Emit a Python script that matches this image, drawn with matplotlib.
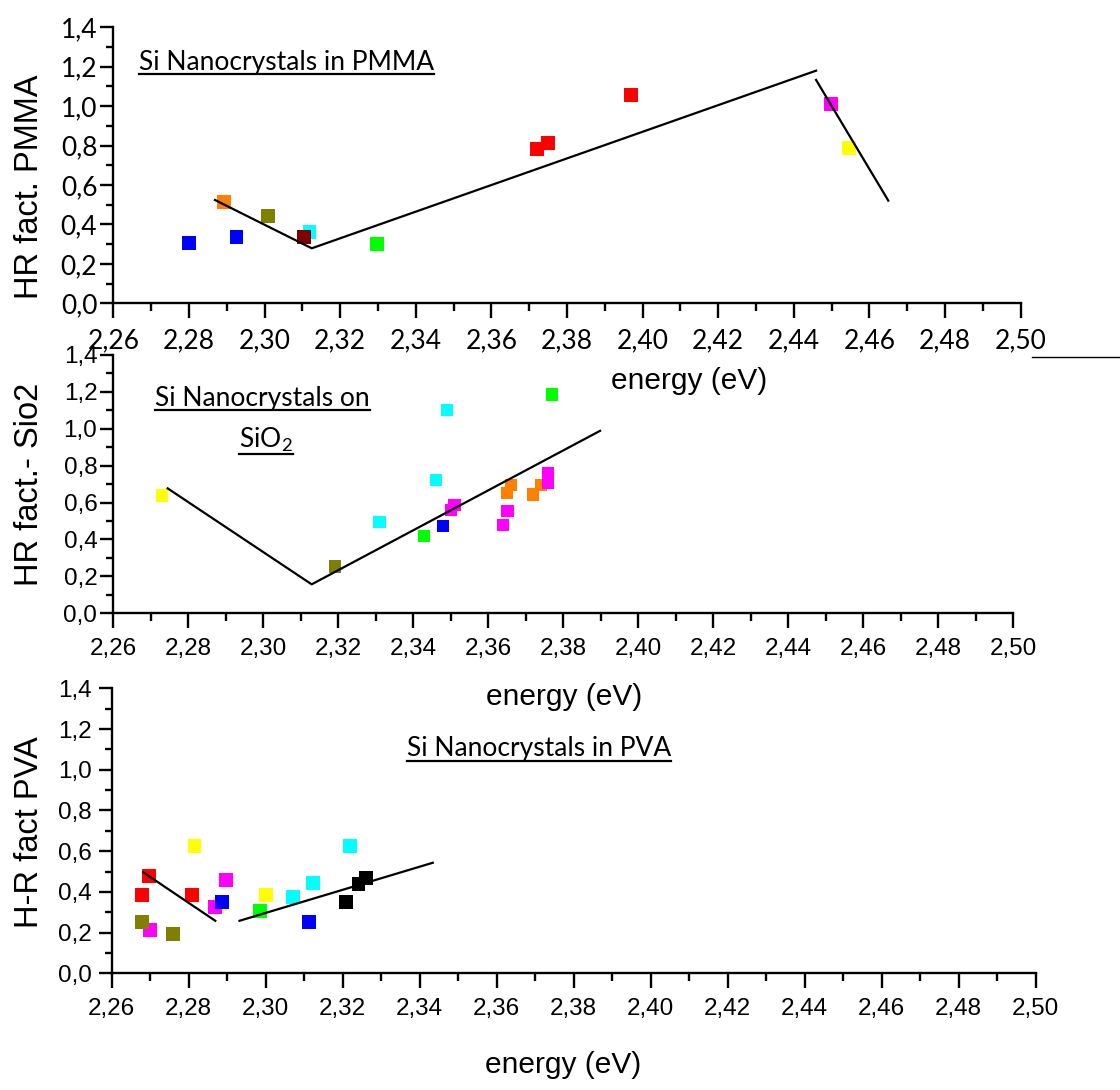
import matplotlib
matplotlib.use('Agg')
import matplotlib.pyplot as plt
from matplotlib.ticker import MultipleLocator, FuncFormatter
from matplotlib.lines import Line2D

# --- data ---
# Si nanocrystals in PMMA
pmma_e = [2.2800, 2.2894, 2.2926, 2.3010, 2.3119, 2.3105, 2.3298,
          2.3720, 2.3749, 2.3970, 2.4498, 2.4547]
pmma_hr = [0.307, 0.515, 0.335, 0.444, 0.360, 0.338, 0.299,
           0.783, 0.813, 1.057, 1.011, 0.789]
pmma_sample = ['blue', 'orange', 'blue', 'olive', 'cyan', 'maroon', 'green',
               'red', 'red', 'red', 'magenta', 'yellow']
pmma_fit1_e = [2.2869, 2.3125, 2.4459]
pmma_fit1_hr = [0.524, 0.279, 1.180]
pmma_fit2_e = [2.4459, 2.4650]
pmma_fit2_hr = [1.133, 0.521]

# Si nanocrystals on SiO2
sio2_e = [2.2730, 2.3191, 2.3310, 2.3429, 2.3460, 2.3490, 2.3480, 2.3501, 2.3510,
          2.3640, 2.3651, 2.3649, 2.3660, 2.3720, 2.3741, 2.3760, 2.3760, 2.3770]
sio2_hr = [0.639, 0.254, 0.494, 0.420, 0.722, 1.100, 0.473, 0.559, 0.586,
           0.478, 0.554, 0.650, 0.695, 0.644, 0.695, 0.707, 0.758, 1.186]
sio2_sample = ['yellow', 'olive', 'cyan', 'green', 'cyan', 'cyan', 'blue', 'magenta', 'magenta',
               'magenta', 'magenta', 'orange', 'orange', 'orange', 'orange', 'magenta', 'magenta', 'green']
sio2_fit_e = [2.2745, 2.3129, 2.3898]
sio2_fit_hr = [0.677, 0.157, 0.989]

# Si nanocrystals in PVA
pva_e = [2.2678, 2.2698, 2.2700, 2.2678, 2.2760, 2.2815, 2.2809, 2.2882, 2.2868, 2.2886,
         2.2898, 2.3001, 2.2985, 2.3072, 2.3124, 2.3113, 2.3219, 2.3209, 2.3241, 2.3261]
pva_hr = [0.385, 0.479, 0.213, 0.253, 0.192, 0.627, 0.385, 0.340, 0.327, 0.349,
          0.458, 0.385, 0.307, 0.376, 0.445, 0.250, 0.625, 0.352, 0.437, 0.470]
pva_sample = ['red', 'red', 'magenta', 'olive', 'olive', 'yellow', 'red', 'yellow', 'magenta', 'blue',
              'magenta', 'yellow', 'green', 'cyan', 'cyan', 'blue', 'cyan', 'black', 'black', 'black']
pva_fit1_e = [2.2682, 2.2869]
pva_fit1_hr = [0.496, 0.258]
pva_fit2_e = [2.2932, 2.3434]
pva_fit2_hr = [0.258, 0.543]

COLORS = {'blue': '#0000ff', 'orange': '#ff8000', 'olive': '#808000', 'cyan': '#00ffff',
          'maroon': '#800000', 'green': '#00ff00', 'red': '#ff0000', 'magenta': '#ff00ff',
          'yellow': '#ffff00', 'black': '#000000'}

W, H = 1120, 1090
fig = plt.figure(figsize=(W / 100, H / 100), dpi=100)
plt.rcParams['mathtext.fontset'] = 'custom'
plt.rcParams['mathtext.rm'] = 'Lato'


def px_axes(left, top, right, bottom):
    return fig.add_axes([left / W, 1 - bottom / H, (right - left) / W, (bottom - top) / H])


def style_axes(ax, tickfont, ticksize):
    ax.set_xlim(2.26, 2.50)
    ax.set_ylim(0, 1.4)
    for s in ['top', 'right']:
        ax.spines[s].set_visible(False)
    for s in ['left', 'bottom']:
        ax.spines[s].set_linewidth(1.7)
    ax.xaxis.set_major_locator(MultipleLocator(0.02))
    ax.xaxis.set_minor_locator(MultipleLocator(0.01))
    ax.yaxis.set_major_locator(MultipleLocator(0.2))
    ax.yaxis.set_minor_locator(MultipleLocator(0.1))
    ax.xaxis.set_major_formatter(FuncFormatter(lambda v, p: ('%.2f' % v).replace('.', ',')))
    ax.yaxis.set_major_formatter(FuncFormatter(lambda v, p: ('%.1f' % v).replace('.', ',')))
    ax.tick_params(axis='x', which='major', direction='out', length=11, width=1.7, pad=7)
    ax.tick_params(axis='x', which='minor', direction='out', length=6, width=1.7)
    ax.tick_params(axis='y', which='major', direction='out', length=9.5, width=1.7, pad=2)
    ax.tick_params(axis='y', which='minor', direction='out', length=5, width=1.7)
    for lab in ax.get_xticklabels() + ax.get_yticklabels():
        lab.set_family(tickfont)
        lab.set_fontsize(ticksize)


def points(ax, e, hr, sample, ms):
    ax.scatter(e, hr, s=ms ** 2, marker='s', c=[COLORS[k] for k in sample],
               linewidths=0, zorder=2, clip_on=False)


ax1 = px_axes(113.3, 27.3, 1020.6, 303.3)
style_axes(ax1, 'Lato', 19)
points(ax1, pmma_e, pmma_hr, pmma_sample, 10)
ax1.plot(pmma_fit1_e, pmma_fit1_hr, 'k-', lw=1.6, zorder=3)
ax1.plot(pmma_fit2_e, pmma_fit2_hr, 'k-', lw=1.6, zorder=3)

ax2 = px_axes(113.3, 355, 1013.3, 613.3)
style_axes(ax2, 'Liberation Sans', 17.5)
points(ax2, sio2_e, sio2_hr, sio2_sample, 8.8)
ax2.plot(sio2_fit_e, sio2_fit_hr, 'k-', lw=1.6, zorder=3)

ax3 = px_axes(111.7, 688.3, 1035.7, 973.3)
style_axes(ax3, 'Liberation Sans', 17.5)
ax3.tick_params(axis='y', which='major', pad=5)
points(ax3, pva_e, pva_hr, pva_sample, 10)
ax3.plot(pva_fit1_e, pva_fit1_hr, 'k-', lw=1.6, zorder=3)
ax3.plot(pva_fit2_e, pva_fit2_hr, 'k-', lw=1.6, zorder=3)

# axis titles
lab = dict(family='Liberation Sans', fontsize=21.5, ha='center', va='center')
fig.text(689 / W, 1 - 381 / H, 'energy (eV)', **lab)
fig.text(564 / W, 1 - 697 / H, 'energy (eV)', **lab)
fig.text(563 / W, 1 - 1065 / H, 'energy (eV)', **lab)
ylab = dict(family='Liberation Sans', fontsize=23.5, ha='center', va='center', rotation=90)
fig.text(29 / W, 1 - 187 / H, 'HR fact. PMMA', **ylab)
fig.text(29 / W, 1 - 484 / H, 'HR fact.- Sio2', **ylab)
fig.text(29 / W, 1 - 832 / H, 'H-R fact PVA', **ylab)

# underlined captions
notes = [('Si Nanocrystals in PMMA', 139, 70, 74),
         ('Si Nanocrystals on', 155, 406, 410),
         ('SiO$_2$', 239, 448, 454),
         ('Si Nanocrystals in PVA', 407, 756, 761)]
txts = []
for s, x, yb, yu in notes:
    t = fig.text(x / W, 1 - yb / H, s, family='Lato', fontsize=19, ha='left', va='baseline')
    txts.append((t, yu))

fig.canvas.draw()
r = fig.canvas.get_renderer()
for t, yu in txts:
    bb = t.get_window_extent(r)
    fig.add_artist(Line2D([bb.x0 / W, bb.x1 / W], [1 - yu / H] * 2, color='k', lw=1.6))

# stray rule at the right edge
fig.add_artist(Line2D([1032 / W, 1.0], [1 - 357 / H] * 2, color='k', lw=1.0))

fig.savefig('out.png', dpi=100)
